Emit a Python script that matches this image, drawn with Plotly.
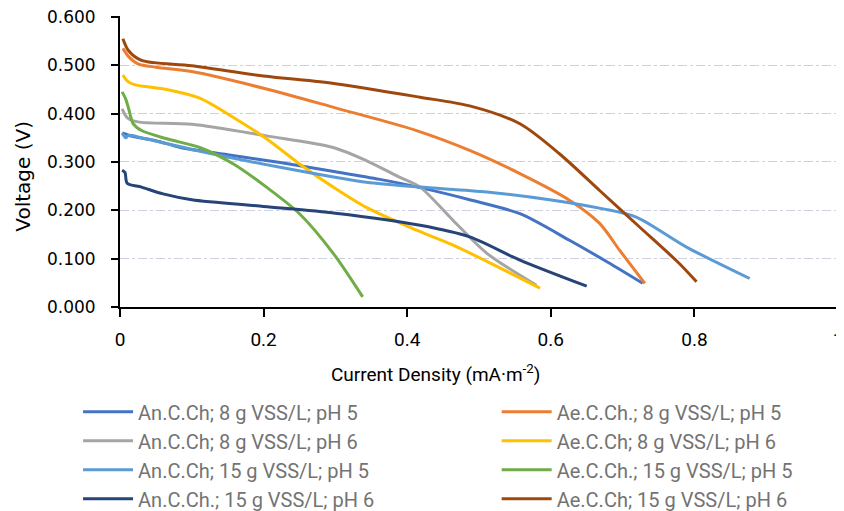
import plotly.graph_objects as go

# An.C.Ch; 8 g VSS/L; pH 5
an8_ph5_x = [0.003, 0.02, 0.05, 0.084, 0.15, 0.223, 0.3, 0.362, 0.418, 0.487, 0.557, 0.626, 0.68, 0.728]
an8_ph5_y = [0.360, 0.352, 0.344, 0.330, 0.315, 0.299, 0.280, 0.264, 0.247, 0.222, 0.193, 0.138, 0.092, 0.049]
# Ae.C.Ch.; 8 g VSS/L; pH 5
ae8_ph5_x = [0.004, 0.012, 0.025, 0.05, 0.1, 0.204, 0.3, 0.413, 0.487, 0.557, 0.626, 0.668, 0.696, 0.731]
ae8_ph5_y = [0.535, 0.518, 0.503, 0.496, 0.487, 0.451, 0.412, 0.365, 0.324, 0.276, 0.221, 0.173, 0.117, 0.049]
# An.C.Ch; 8 g VSS/L; pH 6
an8_ph6_x = [0.003, 0.01, 0.025, 0.1, 0.204, 0.297, 0.343, 0.39, 0.418, 0.464, 0.511, 0.580]
an8_ph6_y = [0.410, 0.392, 0.383, 0.378, 0.354, 0.330, 0.303, 0.268, 0.248, 0.179, 0.111, 0.045]
# Ae.C.Ch; 8 g VSS/L; pH 6
ae8_ph6_x = [0.004, 0.01, 0.02, 0.065, 0.111, 0.158, 0.204, 0.25, 0.297, 0.343, 0.413, 0.464, 0.585]
ae8_ph6_y = [0.480, 0.468, 0.460, 0.450, 0.432, 0.392, 0.348, 0.296, 0.248, 0.206, 0.159, 0.128, 0.039]
# An.C.Ch; 15 g VSS/L; pH 5
an15_ph5_x = [0.003, 0.008, 0.012, 0.03, 0.1, 0.223, 0.343, 0.418, 0.511, 0.603, 0.673, 0.719, 0.789, 0.877]
an15_ph5_y = [0.360, 0.350, 0.355, 0.350, 0.326, 0.289, 0.258, 0.248, 0.238, 0.221, 0.203, 0.186, 0.124, 0.059]
# Ae.C.Ch.; 15 g VSS/L; pH 5
ae15_ph5_x = [0.003, 0.008, 0.013, 0.018, 0.03, 0.065, 0.111, 0.158, 0.204, 0.25, 0.297, 0.338]
ae15_ph5_y = [0.445, 0.430, 0.405, 0.380, 0.365, 0.348, 0.330, 0.296, 0.248, 0.193, 0.111, 0.021]
# An.C.Ch.; 15 g VSS/L; pH 6
an15_ph6_x = [0.003, 0.007, 0.01, 0.03, 0.06, 0.1, 0.2, 0.3, 0.418, 0.487, 0.557, 0.650]
an15_ph6_y = [0.283, 0.278, 0.256, 0.248, 0.234, 0.222, 0.208, 0.194, 0.169, 0.145, 0.097, 0.043]
# Ae.C.Ch; 15 g VSS/L; pH 6
ae15_ph6_x = [0.004, 0.012, 0.03, 0.1, 0.2, 0.3, 0.418, 0.487, 0.557, 0.612, 0.668, 0.724, 0.779, 0.803]
ae15_ph6_y = [0.555, 0.530, 0.510, 0.499, 0.478, 0.462, 0.434, 0.416, 0.379, 0.317, 0.241, 0.165, 0.090, 0.052]

# (name, x, y, colour, legend column)
series = [
    ("An.C.Ch; 8 g VSS/L; pH 5", an8_ph5_x, an8_ph5_y, "#4472C4", "legend"),
    ("Ae.C.Ch.; 8 g VSS/L; pH 5", ae8_ph5_x, ae8_ph5_y, "#ED7D31", "legend2"),
    ("An.C.Ch; 8 g VSS/L; pH 6", an8_ph6_x, an8_ph6_y, "#A5A5A5", "legend"),
    ("Ae.C.Ch; 8 g VSS/L; pH 6", ae8_ph6_x, ae8_ph6_y, "#FFC000", "legend2"),
    ("An.C.Ch; 15 g VSS/L; pH 5", an15_ph5_x, an15_ph5_y, "#5B9BD5", "legend"),
    ("Ae.C.Ch.; 15 g VSS/L; pH 5", ae15_ph5_x, ae15_ph5_y, "#70AD47", "legend2"),
    ("An.C.Ch.; 15 g VSS/L; pH 6", an15_ph6_x, an15_ph6_y, "#264478", "legend"),
    ("Ae.C.Ch; 15 g VSS/L; pH 6", ae15_ph6_x, ae15_ph6_y, "#9E480E", "legend2"),
]

fig = go.Figure()
for i, (name, x, y, c, leg) in enumerate(series):
    fig.add_trace(go.Scatter(x=x, y=y, mode="lines", name=name, legend=leg, legendgroup=f"g{i}",
                             line=dict(color=c, width=3, shape="spline", smoothing=0.8)))

legfont = dict(family="Roboto", size=20, color="#737373")
leg_common = dict(orientation="v", xref="container", yref="container", xanchor="left",
                  yanchor="top", y=0.248, itemwidth=50, tracegroupgap=0, font=legfont,
                  bgcolor="rgba(0,0,0,0)")

fig.update_layout(
    width=844, height=511,
    margin=dict(l=112, r=14, t=8, b=212, autoexpand=False),
    plot_bgcolor="white", paper_bgcolor="white",
    showlegend=True,
    legend=dict(x=0.083, **leg_common),
    legend2=dict(x=0.579, **leg_common),
    xaxis=dict(range=[0, 1], tickvals=[0, 0.2, 0.4, 0.6, 0.8, 1],
               ticktext=["0", "0.2", "0.4", "0.6", "0.8", "1"], automargin=False,
               ticklabeloverflow="allow",
               showgrid=False, zeroline=False, showline=True, linecolor="black", linewidth=2,
               ticks="outside", ticklen=8, tickwidth=2, tickcolor="black", ticklabelstandoff=6,
               tickfont=dict(family="Roboto", size=19, color="black")),
    yaxis=dict(range=[0, 0.602], tickvals=[0, 0.1, 0.2, 0.3, 0.4, 0.5, 0.6],
               tickformat=".3f", automargin=False, ticklabeloverflow="allow",
               showgrid=True, gridcolor="#d0d0e4", griddash="dashdot", gridwidth=1,
               zeroline=False, showline=True, linecolor="black", linewidth=2,
               ticks="outside", ticklen=7, tickwidth=2, tickcolor="black", ticklabelstandoff=12,
               tickfont=dict(family="DejaVu Sans", size=17, color="black")),
    annotations=[
        dict(text="Current Density (mA·m<sup>-2</sup>)", xref="paper", yref="paper",
             x=0.44, y=-0.227, xanchor="center", yanchor="middle", showarrow=False,
             font=dict(family="Roboto", size=19, color="black")),
        dict(text="Voltage (V)", xref="paper", yref="paper", textangle=-90,
             x=-0.135, y=0.448, xanchor="center", yanchor="middle", showarrow=False,
             font=dict(family="DejaVu Sans", size=20, color="black")),
    ],
)

fig.write_html("out.html")
